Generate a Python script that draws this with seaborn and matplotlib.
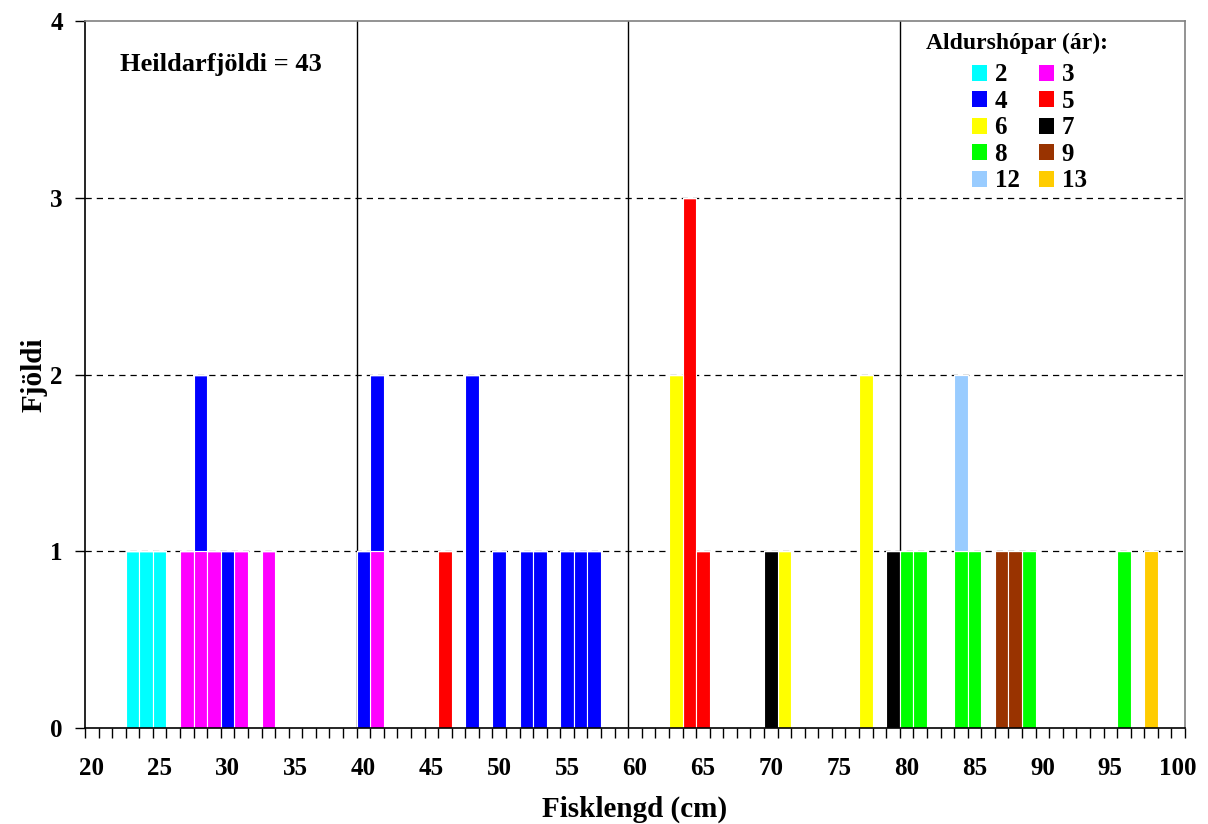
import pandas as pd
import numpy as np
import matplotlib
matplotlib.use('Agg')
import matplotlib.pyplot as plt
import seaborn as sns
from matplotlib.patches import Patch
from matplotlib.ticker import FixedLocator

# fish length (cm), age group (years) and count per stacked segment
lengd = [23, 24, 25, 27, 28, 28, 29, 30, 31, 33,
         40, 41, 41, 46, 48, 50, 52, 53, 55, 56, 57,
         63, 64, 65, 70, 71, 77, 79,
         80, 81, 84, 84, 85, 87, 88, 89, 96, 98]
aldur = [2, 2, 2, 3, 3, 4, 3, 4, 3, 3,
         4, 3, 4, 5, 4, 4, 4, 4, 4, 4, 4,
         6, 5, 5, 7, 6, 6, 7,
         8, 8, 8, 12, 8, 9, 9, 8, 8, 13]
fjoldi = [1, 1, 1, 1, 1, 1, 1, 1, 1, 1,
          1, 1, 1, 1, 2, 1, 1, 1, 1, 1, 1,
          2, 3, 1, 1, 1, 2, 1,
          1, 1, 1, 1, 1, 1, 1, 1, 1, 1]

aldurshopar = ['2', '3', '4', '5', '6', '7', '8', '9', '12', '13']
litir = ['#00FFFF', '#FF00FF', '#0000FF', '#FF0000', '#FFFF00',
         '#000000', '#00FF00', '#993300', '#99CCFF', '#FFCC00']

df = pd.DataFrame({'lengd': lengd, 'aldur': [str(a) for a in aldur], 'fjoldi': fjoldi})
palette = dict(zip(aldurshopar, litir))

sns.set_style('ticks')
plt.rcParams['font.family'] = ['Liberation Serif', 'DejaVu Serif']
plt.rcParams['font.weight'] = 'bold'
for k in ['text.color', 'axes.labelcolor', 'xtick.color', 'ytick.color']:
    plt.rcParams[k] = 'black'

fig = plt.figure(figsize=(12.08, 8.24), dpi=100)
ax = fig.add_axes([85/1208, 1 - 728/824, 1100/1208, 707/824])

# seaborn stacks the first hue level on top -> pass the reversed order
sns.histplot(data=df, x='lengd', hue='aldur', weights='fjoldi', multiple='stack',
             discrete=True, hue_order=aldurshopar[::-1], palette=palette,
             alpha=1, edgecolor='white', linewidth=0.8, legend=False, ax=ax)

ax.set_xlim(19.5, 100.5)
ax.set_ylim(0, 4)

for y in [1, 2, 3]:
    ax.axhline(y, color='black', lw=0.9, ls=(0, (5, 4)), zorder=0.5)
for x in [39.5, 59.5, 79.5]:
    ax.axvline(x, color='black', lw=1, zorder=0.5)

ax.set_yticks([0, 1, 2, 3, 4])
ax.set_xticks(np.arange(20, 101, 5))
ax.xaxis.set_minor_locator(FixedLocator(np.arange(19.5, 101, 1)))
ax.tick_params(axis='x', which='major', length=0, pad=21, labelsize=18)
ax.tick_params(axis='x', which='minor', length=7, width=1, color='black', direction='out')
ax.tick_params(axis='y', length=7, width=1, color='black', direction='out', labelsize=18, pad=9)
for lab in ax.get_xticklabels() + ax.get_yticklabels():
    lab.set_fontweight('bold')

for s in ['left', 'bottom']:
    ax.spines[s].set_color('black')
    ax.spines[s].set_linewidth(1.2)
for s in ['top', 'right']:
    ax.spines[s].set_color('#808080')
    ax.spines[s].set_linewidth(1.2)

ax.set_xlabel('Fisklengd (cm)', fontsize=21, fontweight='bold', labelpad=11)
ax.set_ylabel('Fjöldi', fontsize=21, fontweight='bold', labelpad=2)

ax.text(0.032, 0.938, 'Heildarfjöldi = 43', transform=ax.transAxes,
        fontsize=19, fontweight='bold', va='center', ha='left')

# legend title drawn separately, entries in two columns filled row-wise
ax.text(0.847, 0.969, 'Aldurshópar (ár):', transform=ax.transAxes,
        fontsize=17, fontweight='bold', va='center', ha='center')
col1 = aldurshopar[0::2]
col2 = aldurshopar[1::2]
order = col1 + col2
handles = [Patch(facecolor=palette[a], edgecolor='none') for a in order]
leg = ax.legend(handles, order, ncol=2, loc='upper left', bbox_to_anchor=(0.806, 0.940),
                frameon=False, fontsize=18, borderaxespad=0,
                handlelength=0.6, handleheight=0.6, handletextpad=0.32,
                columnspacing=0.76, labelspacing=0.14, borderpad=0)
for t in leg.get_texts():
    t.set_fontweight('bold')

fig.savefig('out.png', dpi=100)
